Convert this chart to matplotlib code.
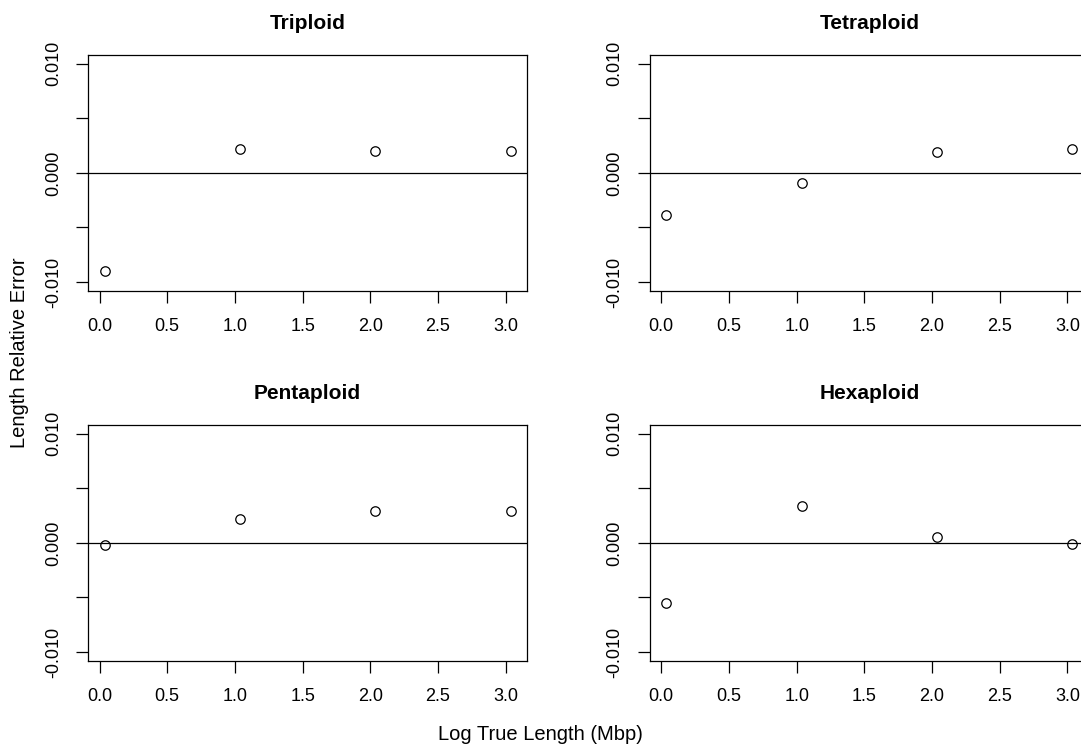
import matplotlib
matplotlib.use("Agg")
import matplotlib.pyplot as plt

plt.rcParams['font.family'] = ['Liberation Sans', 'DejaVu Sans']

# log10 of true length (Mbp) for the four test sizes
log_len = [0.037, 1.037, 2.037, 3.037]

panels = ["Triploid", "Tetraploid", "Pentaploid", "Hexaploid"]
triploid = [-0.0090, 0.00216, 0.00198, 0.00198]
tetraploid = [-0.00382, -0.00092, 0.00189, 0.00216]
pentaploid = [-0.00018, 0.00220, 0.00293, 0.00293]
hexaploid = [-0.00550, 0.00342, 0.00051, -0.00009]
rel_err = [triploid, tetraploid, pentaploid, hexaploid]

x_ticks = [0.0, 0.5, 1.0, 1.5, 2.0, 2.5, 3.0]
y_ticks = [-0.010, -0.005, 0.000, 0.005, 0.010]
y_ticklabels = ["-0.010", "", "0.000", "", "0.010"]

W, H = 1081, 751
fig = plt.figure(figsize=(W / 100, H / 100), dpi=100)

# panel boxes in pixels: left, top
lefts = [88.3, 650.0]
tops = [55.0, 425.0]
bw, bh = 438.7, 235.7

for i, name in enumerate(panels):
    r, c = divmod(i, 2)
    ax = fig.add_axes([lefts[c] / W, 1 - (tops[r] + bh) / H, bw / W, bh / H])
    ax.axhline(0, color='black', lw=0.9, zorder=1)
    ax.plot(log_len, rel_err[i], linestyle='none', marker='o', ms=6.8,
            mfc='none', mec='black', mew=0.9, zorder=3)
    ax.set_xlim(-0.083, 3.157)
    ax.set_ylim(-0.0108, 0.0108)
    ax.set_xticks(x_ticks)
    ax.set_xticklabels([f"{t:.1f}" for t in x_ticks])
    ax.set_yticks(y_ticks)
    ax.set_yticklabels(y_ticklabels, rotation=90, va='center')
    ax.tick_params(direction='out', length=8.5, width=0.9, labelsize=13,
                   colors='black')
    ax.tick_params(axis='x', pad=11.5)
    ax.tick_params(axis='y', pad=10.5)
    for sp in ax.spines.values():
        sp.set_linewidth(0.9)
        sp.set_color('black')
    ax.set_title(name, fontweight='bold', fontsize=15, pad=18.5)

fig.text(20 / W, 1 - 353 / H, "Length Relative Error", rotation=90,
         ha='center', va='center', fontsize=14.5)
fig.text(540 / W, 1 - 735 / H, "Log True Length (Mbp)",
         ha='center', va='center', fontsize=14.5)

fig.savefig("out.png", dpi=100, facecolor='white')
